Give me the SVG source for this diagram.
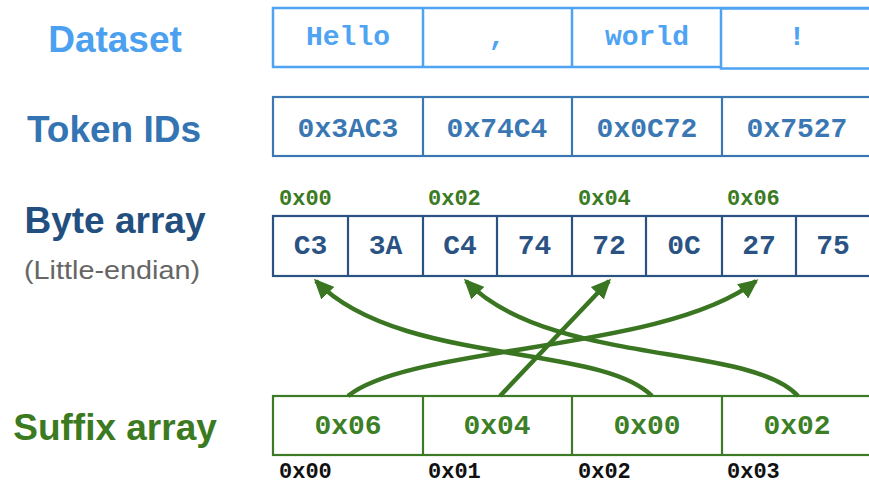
<svg xmlns="http://www.w3.org/2000/svg" width="869" height="485" viewBox="0 0 869 485">
<style>
.lbl{font-family:"Liberation Sans",Arial,sans-serif;font-weight:bold;font-size:37px;text-anchor:middle}
.mono{font-family:"Liberation Mono","Courier New",monospace;font-weight:bold;font-size:28px;text-anchor:middle}
.idx{font-family:"Liberation Mono","Courier New",monospace;font-weight:bold;font-size:22px}
.box{fill:#fff}
.ds{stroke:#4ea3f2;stroke-width:2.5}
.tk{stroke:#3a77b3;stroke-width:2.2}
.by{stroke:#2a5384;stroke-width:2.2}
.sf{stroke:#3c7b25;stroke-width:2.2}
.arr{fill:none;stroke:#3a7522;stroke-width:4.5}
</style>
<defs>
<marker id="ah" viewBox="0 0 20 18" refX="17" refY="9" markerWidth="20" markerHeight="18" markerUnits="userSpaceOnUse" orient="auto">
<path d="M0,0 L20,9 L0,18 Z" fill="#3a7522"/>
</marker>
</defs>
<rect width="869" height="485" fill="#fff"/>

<g id="dataset">
<text class="lbl" x="115" y="52" fill="#4ba0f0">Dataset</text>
<rect class="box ds" x="273" y="8" width="610" height="59"/>
<line class="ds" x1="423" y1="8" x2="423" y2="67"/>
<line class="ds" x1="572" y1="8" x2="572" y2="67"/>
<rect class="box ds" x="721" y="8.5" width="160" height="60"/>
<text class="mono" x="348" y="45" fill="#4ea3f2">Hello</text>
<text class="mono" x="497" y="45" fill="#4ea3f2">,</text>
<text class="mono" x="647" y="45" fill="#4ea3f2">world</text>
<text class="mono" x="797" y="45" fill="#4ea3f2">!</text>
</g>

<g id="token-ids">
<text class="lbl" x="114" y="142" fill="#3474b3">Token IDs</text>
<rect class="box tk" x="273" y="97" width="610" height="59"/>
<line class="tk" x1="423" y1="97" x2="423" y2="156"/>
<line class="tk" x1="572" y1="97" x2="572" y2="156"/>
<line class="tk" x1="722" y1="97" x2="722" y2="156"/>
<text class="mono" x="348" y="137" fill="#3a77b3">0x3AC3</text>
<text class="mono" x="497" y="137" fill="#3a77b3">0x74C4</text>
<text class="mono" x="647" y="137" fill="#3a77b3">0x0C72</text>
<text class="mono" x="797" y="137" fill="#3a77b3">0x7527</text>
</g>

<g id="byte-array">
<text class="lbl" x="115" y="233" fill="#234f80">Byte array</text>
<text x="112" y="279" font-family="'Liberation Sans',Arial,sans-serif" font-size="25" fill="#666" text-anchor="middle" textLength="176" lengthAdjust="spacingAndGlyphs">(Little-endian)</text>
<text class="idx" x="279" y="205" fill="#3a7a22">0x00</text>
<text class="idx" x="428" y="205" fill="#3a7a22">0x02</text>
<text class="idx" x="578" y="205" fill="#3a7a22">0x04</text>
<text class="idx" x="727" y="205" fill="#3a7a22">0x06</text>
<rect class="box by" x="273" y="216" width="610" height="60"/>
<line class="by" x1="348" y1="216" x2="348" y2="276"/>
<line class="by" x1="423" y1="216" x2="423" y2="276"/>
<line class="by" x1="497" y1="216" x2="497" y2="276"/>
<line class="by" x1="572" y1="216" x2="572" y2="276"/>
<line class="by" x1="646" y1="216" x2="646" y2="276"/>
<line class="by" x1="722" y1="216" x2="722" y2="276"/>
<line class="by" x1="796" y1="216" x2="796" y2="276"/>
<text class="mono" x="310.5" y="254" fill="#2a5384">C3</text>
<text class="mono" x="385.5" y="254" fill="#2a5384">3A</text>
<text class="mono" x="460" y="254" fill="#2a5384">C4</text>
<text class="mono" x="534.5" y="254" fill="#2a5384">74</text>
<text class="mono" x="609" y="254" fill="#2a5384">72</text>
<text class="mono" x="684" y="254" fill="#2a5384">0C</text>
<text class="mono" x="759" y="254" fill="#2a5384">27</text>
<text class="mono" x="833" y="254" fill="#2a5384">75</text>
</g>

<g id="suffix-array">
<text class="lbl" x="115" y="440" fill="#3b7a20">Suffix array</text>
<rect class="box sf" x="273" y="396" width="610" height="59"/>
<line class="sf" x1="423" y1="396" x2="423" y2="455"/>
<line class="sf" x1="572" y1="396" x2="572" y2="455"/>
<line class="sf" x1="722" y1="396" x2="722" y2="455"/>
<text class="mono" x="348" y="434" fill="#3c7f26">0x06</text>
<text class="mono" x="497" y="434" fill="#3c7f26">0x04</text>
<text class="mono" x="647" y="434" fill="#3c7f26">0x00</text>
<text class="mono" x="797" y="434" fill="#3c7f26">0x02</text>
<text class="idx" x="279" y="478" fill="#111">0x00</text>
<text class="idx" x="428" y="478" fill="#111">0x01</text>
<text class="idx" x="578" y="478" fill="#111">0x02</text>
<text class="idx" x="727" y="478" fill="#111">0x03</text>
</g>

<g id="connectors">
<path class="arr" marker-end="url(#ah)" d="M348,396 C410,345 665,352 756,281"/>
<path class="arr" marker-end="url(#ah)" d="M500,396 L609,281"/>
<path class="arr" marker-end="url(#ah)" d="M652,396 C600,343 398,366 316,281"/>
<path class="arr" marker-end="url(#ah)" d="M798,396 C750,343 548,366 466,281"/>
</g>
</svg>
